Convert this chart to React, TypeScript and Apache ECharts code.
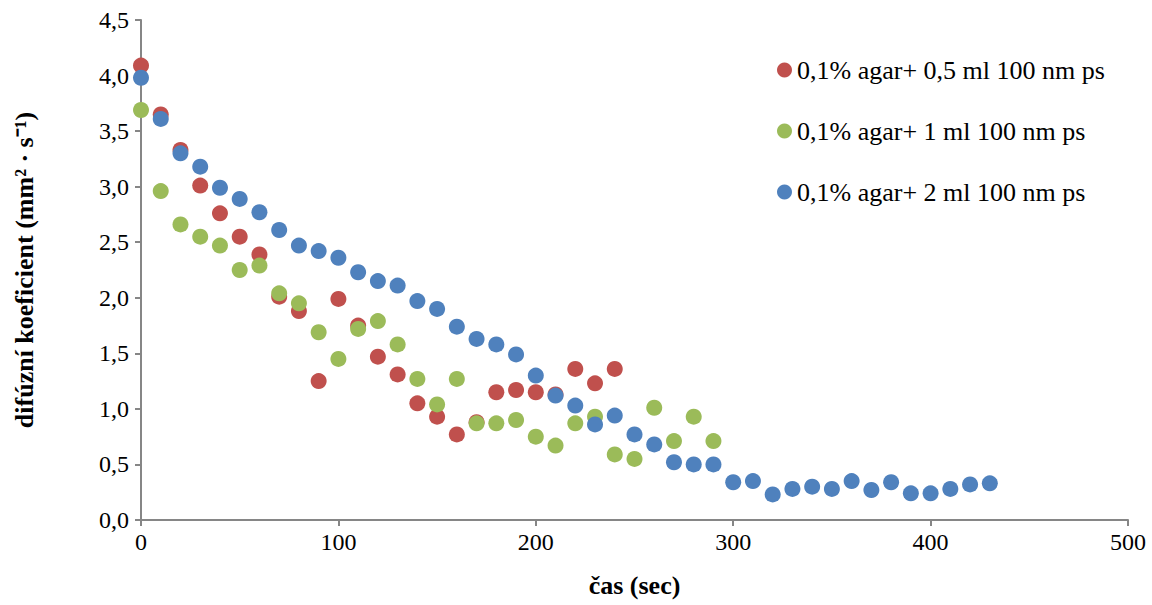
import React, { useEffect, useRef } from "react";
import * as echarts from "echarts";

const redX = [0,10,20,30,40,50,60,70,80,90,100,110,120,130,140,150,160,170,180,190,200,210,220,230,240];
const redY = [4.09,3.65,3.33,3.01,2.76,2.55,2.39,2.01,1.88,1.25,1.99,1.75,1.47,1.31,1.05,0.93,0.77,0.88,1.15,1.17,1.15,1.13,1.36,1.23,1.36];
const greenX = [0,10,20,30,40,50,60,70,80,90,100,110,120,130,140,150,160,170,180,190,200,210,220,230,240,250,260,270,280,290];
const greenY = [3.69,2.96,2.66,2.55,2.47,2.25,2.29,2.04,1.95,1.69,1.45,1.72,1.79,1.58,1.27,1.04,1.27,0.87,0.87,0.90,0.75,0.67,0.87,0.93,0.59,0.55,1.01,0.71,0.93,0.71];
const blueX = [0,10,20,30,40,50,60,70,80,90,100,110,120,130,140,150,160,170,180,190,200,210,220,230,240,250,260,270,280,290,300,310,320,330,340,350,360,370,380,390,400,410,420,430];
const blueY = [3.98,3.61,3.30,3.18,2.99,2.89,2.77,2.61,2.47,2.42,2.36,2.23,2.15,2.11,1.97,1.90,1.74,1.63,1.58,1.49,1.30,1.12,1.03,0.86,0.94,0.77,0.68,0.52,0.50,0.50,0.34,0.35,0.23,0.28,0.30,0.28,0.35,0.27,0.34,0.24,0.24,0.28,0.32,0.33];
const names = ["0,1% agar+ 0,5 ml 100 nm ps", "0,1% agar+ 1 ml 100 nm ps", "0,1% agar+ 2 ml 100 nm ps"];
const colors = ["#C0504D", "#9BBB59", "#4F81BD"];

const zip = (xs: number[], ys: number[]) => xs.map((x, i) => [x, ys[i]]);

export default function App() {
  const ref = useRef<HTMLDivElement>(null);
  useEffect(() => {
    const chart = echarts.init(ref.current!, null, { renderer: "svg" });
    const font = "Liberation Serif";
    chart.setOption({
      animation: false,
      textStyle: { fontFamily: font },
      grid: { left: 141, right: 24, top: 20, bottom: 85 },
      legend: {
        orient: "vertical", left: 772, top: 52, itemGap: 35, icon: "circle",
        itemWidth: 15, itemHeight: 15,
        textStyle: { fontFamily: font, fontSize: 26, color: "#000" },
        data: names,
      },
      xAxis: {
        type: "value", min: 0, max: 500, interval: 100,
        name: "čas (sec)", nameLocation: "middle", nameGap: 52,
        nameTextStyle: { fontFamily: font, fontSize: 26, fontWeight: "bold", color: "#000" },
        axisLine: { lineStyle: { color: "#868686", width: 2 } },
        axisTick: { show: true, length: 6, lineStyle: { color: "#868686", width: 2 } },
        axisLabel: { fontFamily: font, fontSize: 24, color: "#000", margin: 10 },
        splitLine: { show: false },
      },
      yAxis: {
        type: "value", min: 0, max: 4.5, interval: 0.5,
        name: "difúzní koeficient (mm² · s⁻¹)", nameLocation: "middle", nameGap: 104,
        nameTextStyle: { fontFamily: font, fontSize: 26, fontWeight: "bold", color: "#000" },
        axisLine: { show: true, lineStyle: { color: "#868686", width: 2 } },
        axisTick: { show: true, length: 6, lineStyle: { color: "#868686", width: 2 } },
        axisLabel: { fontFamily: font, fontSize: 24, color: "#000", margin: 12, formatter: (v: number) => v.toFixed(1).replace(".", ",") },
        splitLine: { show: false },
      },
      series: names.map((n, k) => ({
        name: n, type: "scatter", symbolSize: 16,
        data: [zip(redX, redY), zip(greenX, greenY), zip(blueX, blueY)][k],
        itemStyle: { color: colors[k], opacity: 1 },
      })),
    });
    return () => chart.dispose();
  }, []);
  return <div ref={ref} style={{ width: 1152, height: 605, position: "absolute", left: 0, top: 0 }} />;
}
